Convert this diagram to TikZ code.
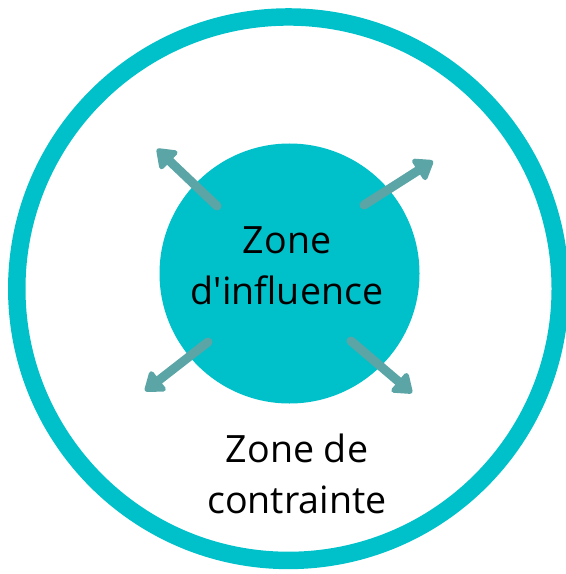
\documentclass[tikz,border=0pt]{standalone}
\usepackage{fontspec}
\setmainfont{Open Sans}
\usetikzlibrary{arrows.meta}
\definecolor{zoneteal}{RGB}{0,193,201}
\definecolor{arrowteal}{RGB}{91,165,166}
\tikzset{
  spread/.style={draw=arrowteal, line width=6.75pt, line cap=round,
    -{Triangle[width=21pt,length=15pt,round]}},
  zonetext/.style={align=center, font=\fontsize{28.2}{38.5}\selectfont}
}
\begin{document}
\begin{tikzpicture}[x=0.75pt,y=0.75pt,yscale=-1]
\useasboundingbox (0,0) rectangle (566,574);

%Shape: Circle [zone de contrainte]
\node (contrainte) [circle, draw=zoneteal, line width=13.1pt, minimum size=407.6pt, inner sep=0pt] at (288.5,288.7) {};

%Shape: Circle [zone d'influence]
\node (influence) [circle, fill=zoneteal, minimum size=195pt, inner sep=0pt] at (289.5,273.5) {};

%Arrow ends
\coordinate (nwa) at (217,206);  \coordinate (nwb) at (157,149);
\coordinate (nea) at (364,205);  \coordinate (neb) at (433,161);
\coordinate (swa) at (208,342);  \coordinate (swb) at (145,391);
\coordinate (sea) at (351,341);  \coordinate (seb) at (412,393);

%Straight Lines
\draw [spread] (nwa) -- (nwb);
\draw [spread] (nea) -- (neb);
\draw [spread] (swa) -- (swb);
\draw [spread] (sea) -- (seb);

% Text Node
\node (influencelabel) [zonetext] at (287,266) {Zone\\d\textquotesingle influence};
\node (contraintelabel) [zonetext] at (297,474) {Zone de\\contrainte};

\end{tikzpicture}
\end{document}
